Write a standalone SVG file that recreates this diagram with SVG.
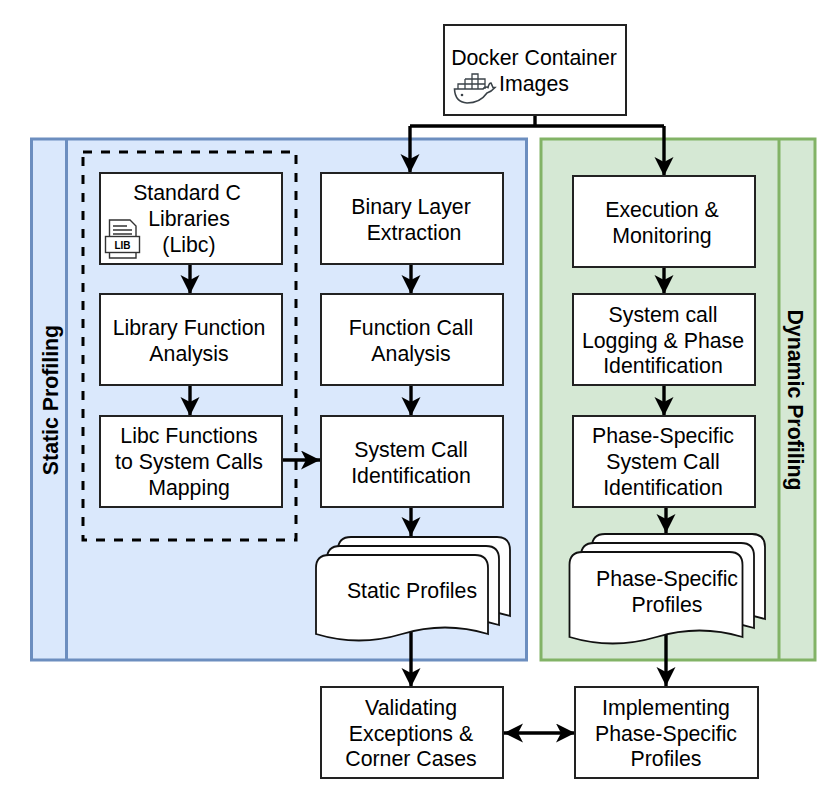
<svg xmlns="http://www.w3.org/2000/svg" width="837" height="798" viewBox="0 0 837 798">
<style>
text{font-family:"Liberation Sans",Arial,sans-serif;font-size:21.3px;fill:#000;text-anchor:middle}
.box{fill:#fff;stroke:#222;stroke-width:2}
.blue{fill:#dae8fc;stroke:#6c8ebf;stroke-width:3}
.green{fill:#d5e8d4;stroke:#82b366;stroke-width:3}
.c{fill:none;stroke:#000;stroke-width:3.400}
.doc{fill:#fff;stroke:#111;stroke-width:1.8}
.title{font-weight:bold}
.ic{fill:none;stroke:#333;stroke-width:1.4}
</style>
<defs>
<marker id="a" markerUnits="userSpaceOnUse" markerWidth="22" markerHeight="22" refX="19" refY="9.500" orient="auto"><path d="M0,0L19,9.500L0,19L5,9.500Z" fill="#000"/></marker>
<marker id="s" markerUnits="userSpaceOnUse" markerWidth="22" markerHeight="22" refX="19" refY="9.500" orient="auto-start-reverse"><path d="M0,0L19,9.500L0,19L5,9.500Z" fill="#000"/></marker>
<path id="wave" d="M0,13Q0,0 13,0H159Q172,0 172,13V79Q129,66 86,79Q43,92 0,79Z"/>
<path id="wave2" d="M0,13Q0,0 13,0H160Q173,0 173,13V85Q130,72 87,85Q43,98 0,85Z"/>
</defs>
<g id="static-panel"><rect class="blue" x="31.500" y="139" width="495" height="521"/><line x1="66.500" y1="139" x2="66.500" y2="660" stroke="#6c8ebf" stroke-width="3"/><text class="title" transform="translate(58,400) rotate(-90)">Static Profiling</text></g>
<g id="dynamic-panel"><rect class="green" x="541" y="139" width="274" height="521"/><line x1="779" y1="139" x2="779" y2="660" stroke="#82b366" stroke-width="3"/><text class="title" transform="translate(788,400) rotate(90)">Dynamic Profiling</text></g>
<g id="libc-group"><rect x="83" y="152" width="213" height="388" fill="none" stroke="#000" stroke-width="3" stroke-dasharray="9 9"/></g>
<g id="connectors">
<path class="c" d="M535,115V126"/>
<path class="c" d="M410,126H664"/>
<path class="c" d="M410,126V173" marker-end="url(#a)"/>
<path class="c" d="M664,126V176" marker-end="url(#a)"/>
<path class="c" d="M190,264V294" marker-end="url(#a)"/>
<path class="c" d="M190,385V416" marker-end="url(#a)"/>
<path class="c" d="M411,264V294" marker-end="url(#a)"/>
<path class="c" d="M411,385V416" marker-end="url(#a)"/>
<path class="c" d="M282,460H320" marker-end="url(#a)"/>
<path class="c" d="M411,507V536" marker-end="url(#a)"/>
<path class="c" d="M664,267V294" marker-end="url(#a)"/>
<path class="c" d="M664,385V416" marker-end="url(#a)"/>
<path class="c" d="M666,507V533" marker-end="url(#a)"/>
<path class="c" d="M411,632V687" marker-end="url(#a)"/>
<path class="c" d="M666,633V686" marker-end="url(#a)"/>
<path class="c" d="M504,733H575" marker-start="url(#s)" marker-end="url(#s)"/>
</g>
<g id="docker"><rect class="box" x="444" y="25" width="182" height="90"/><text x="534" y="65">Docker Container</text><text x="534" y="91">Images</text>
<path d="M454.500,89H483Q485,86 488,87.500Q489,83 491,83L493,87.500H495Q491,92 487,93Q480,103 467,103Q455,102 454.500,89Z" fill="none" stroke="#3a4248" stroke-width="1.600"/>
<path d="M458,89V84H485V89M465,79H485V84M472,79V74H478V79M465,79V89M472,84V89M478,84V89M472,79V84M478,79V84" fill="none" stroke="#3a4248" stroke-width="1.300"/><circle cx="462" cy="95" r="1.300" fill="#3a4248"/></g>
<g id="libc"><rect class="box" x="100" y="173" width="182" height="91"/><text x="187" y="200">Standard C</text><text x="189" y="226">Libraries</text><text x="189" y="252">(Libc)</text>
<path class="ic" d="M109.500,220H130L136,226V258H109.500Z" fill="#fff"/><path class="ic" d="M113,226H127M113,230H132M113,234H132"/><rect x="105.500" y="236.500" width="34" height="16" fill="#fff" stroke="#333" stroke-width="1.400"/><text x="122.500" y="248.500" style="font-size:10px;font-weight:bold">LIB</text></g>
<g id="library-analysis"><rect class="box" x="100" y="294" width="182" height="91"/><text x="189" y="335">Library Function</text><text x="189" y="361">Analysis</text></g>
<g id="mapping"><rect class="box" x="100" y="416" width="182" height="91"/><text x="189" y="443">Libc Functions</text><text x="189" y="469">to System Calls</text><text x="189" y="495">Mapping</text></g>
<g id="binary"><rect class="box" x="321" y="173" width="182" height="91"/><text x="411" y="214">Binary Layer</text><text x="414" y="240">Extraction</text></g>
<g id="function-call"><rect class="box" x="321" y="294" width="182" height="91"/><text x="411" y="335">Function Call</text><text x="411" y="361">Analysis</text></g>
<g id="syscall"><rect class="box" x="321" y="416" width="182" height="91"/><text x="411" y="457">System Call</text><text x="411" y="483">Identification</text></g>
<g id="static-profiles"><use href="#wave" class="doc" x="338" y="537"/><use href="#wave" class="doc" x="327" y="546"/><use href="#wave" class="doc" x="316" y="555"/><text x="412" y="598">Static Profiles</text></g>
<g id="execution"><rect class="box" x="573" y="176" width="182" height="91"/><text x="662" y="217">Execution &amp;</text><text x="662" y="243">Monitoring</text></g>
<g id="logging"><rect class="box" x="573" y="294" width="182" height="91"/><text x="663" y="322">System call</text><text x="663" y="348">Logging &amp; Phase</text><text x="663" y="373">Identification</text></g>
<g id="phase-syscall"><rect class="box" x="573" y="416" width="182" height="91"/><text x="663" y="443">Phase-Specific</text><text x="663" y="469">System Call</text><text x="663" y="495">Identification</text></g>
<g id="phase-profiles"><use href="#wave2" class="doc" x="592" y="534"/><use href="#wave2" class="doc" x="581" y="543"/><use href="#wave2" class="doc" x="569.500" y="552"/><text x="667" y="586">Phase-Specific</text><text x="667" y="612">Profiles</text></g>
<g id="validating"><rect class="box" x="321" y="687" width="182" height="91"/><text x="411" y="715">Validating</text><text x="411" y="741">Exceptions &amp;</text><text x="411" y="766">Corner Cases</text></g>
<g id="implementing"><rect class="box" x="575" y="687" width="183" height="91"/><text x="666" y="715">Implementing</text><text x="666" y="741">Phase-Specific</text><text x="666" y="766">Profiles</text></g>
</svg>
